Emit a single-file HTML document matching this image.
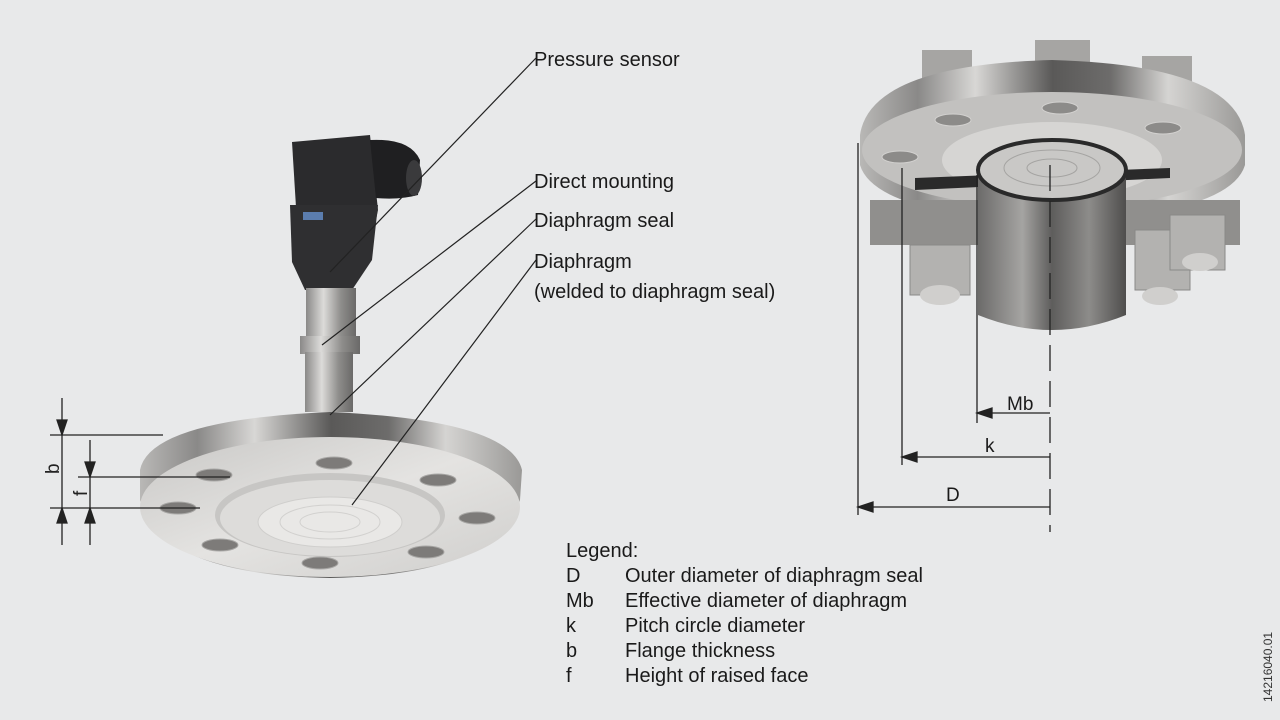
<!DOCTYPE html>
<html><head><meta charset="utf-8"><style>
html,body{margin:0;padding:0;background:#e8e9ea;}
svg{display:block;font-family:"Liberation Sans",sans-serif;}
</style></head><body>
<svg width="1280" height="720" viewBox="0 0 1280 720">
<defs>
<linearGradient id="band" x1="0" x2="1" y1="0" y2="0">
<stop offset="0" stop-color="#b9b8b6"/><stop offset="0.15" stop-color="#8a8988"/><stop offset="0.3" stop-color="#d8d7d5"/><stop offset="0.5" stop-color="#5a5958"/><stop offset="0.65" stop-color="#6d6c6b"/><stop offset="0.8" stop-color="#d5d4d2"/><stop offset="1" stop-color="#9a9997"/>
</linearGradient>
<linearGradient id="face" x1="0" x2="1" y1="0" y2="1">
<stop offset="0" stop-color="#c9c8c6"/><stop offset="0.5" stop-color="#e4e3e1"/><stop offset="1" stop-color="#cfcecc"/>
</linearGradient>
<linearGradient id="cyl" x1="0" x2="1">
<stop offset="0" stop-color="#6c6b6a"/><stop offset="0.3" stop-color="#a5a4a2"/><stop offset="0.5" stop-color="#5e5d5c"/><stop offset="0.75" stop-color="#8d8c8a"/><stop offset="1" stop-color="#4f4e4d"/>
</linearGradient>
<linearGradient id="stem" x1="0" x2="1">
<stop offset="0" stop-color="#8a8988"/><stop offset="0.35" stop-color="#dcdbd9"/><stop offset="0.7" stop-color="#8e8d8b"/><stop offset="1" stop-color="#6a6968"/>
</linearGradient>
</defs>

<path d="M292 142 L370 135 L378 210 L372 240 L298 240 Z" fill="#2b2b2d"/>
<path d="M370 140 Q410 138 420 160 L418 195 Q400 200 376 198 Z" fill="#1f1f21"/>
<ellipse cx="414" cy="178" rx="8" ry="18" fill="#3a3a3c"/>
<path d="M290 205 L378 205 L372 260 L352 290 L305 290 L292 262 Z" fill="#2f2f31"/>
<rect x="303" y="212" width="20" height="8" fill="#5b7dae"/>
<rect x="306" y="288" width="50" height="50" fill="url(#stem)"/>
<rect x="300" y="336" width="60" height="18" fill="url(#stem)"/>
<rect x="305" y="352" width="48" height="60" fill="url(#stem)"/>
<path d="M140 470 Q150 420 330 412 Q510 420 522 470 L520 500 Q500 575 330 578 Q160 575 140 500 Z" fill="url(#band)"/>
<ellipse cx="330" cy="507" rx="190" ry="70" fill="url(#face)"/>
<ellipse cx="330" cy="515" rx="115" ry="42" fill="#c7c6c4"/>
<ellipse cx="330" cy="518" rx="110" ry="38" fill="#dddcda"/>
<ellipse cx="330" cy="522" rx="72" ry="25" fill="#e9e8e6" stroke="#cfcecc"/>
<ellipse cx="330" cy="522" rx="50" ry="17" fill="none" stroke="#d2d1cf"/>
<ellipse cx="330" cy="522" rx="30" ry="10" fill="none" stroke="#d2d1cf"/>
<g fill="#7d7b79" stroke="#a9a8a6">
<ellipse cx="334" cy="463" rx="18" ry="6"/><ellipse cx="214" cy="475" rx="18" ry="6"/><ellipse cx="438" cy="480" rx="18" ry="6"/>
<ellipse cx="178" cy="508" rx="18" ry="6"/><ellipse cx="477" cy="518" rx="18" ry="6"/><ellipse cx="220" cy="545" rx="18" ry="6"/>
<ellipse cx="426" cy="552" rx="18" ry="6"/><ellipse cx="320" cy="563" rx="18" ry="6"/>
</g>

<g stroke="#222" stroke-width="1.2" fill="none">
<line x1="536" y1="58" x2="330" y2="272"/>
<line x1="536" y1="181" x2="322" y2="345"/>
<line x1="536" y1="219" x2="330" y2="415"/>
<line x1="536" y1="260" x2="352" y2="505"/>
</g>
<g font-size="20" fill="#1a1a1a">
<text x="534" y="66">Pressure sensor</text>
<text x="534" y="188">Direct mounting</text>
<text x="534" y="227">Diaphragm seal</text>
<text x="534" y="268">Diaphragm</text>
<text x="534" y="298">(welded to diaphragm seal)</text>
</g>

<g stroke="#222" stroke-width="1.3" fill="#222">
<line x1="50" y1="435" x2="163" y2="435"/>
<line x1="78" y1="477" x2="230" y2="477"/>
<line x1="50" y1="508" x2="200" y2="508"/>
<line x1="62" y1="398" x2="62" y2="545"/>
<line x1="90" y1="440" x2="90" y2="545"/>
<path d="M57 420 L67 420 L62 435 Z"/><path d="M57 523 L67 523 L62 508 Z"/>
<path d="M85 462 L95 462 L90 477 Z"/><path d="M85 523 L95 523 L90 508 Z"/>
</g>
<text transform="translate(59,474) rotate(-90)" font-size="19" fill="#222">b</text>
<text transform="translate(87,496) rotate(-90)" font-size="19" fill="#222">f</text>

<g fill="#a6a5a3"><rect x="922" y="50" width="50" height="40"/><rect x="1035" y="40" width="55" height="40"/><rect x="1142" y="56" width="50" height="36"/></g>
<path d="M860 135 Q870 65 1052 60 Q1235 65 1245 135 L1245 165 Q1230 215 1052 222 Q875 215 860 165 Z" fill="url(#band)"/>
<ellipse cx="1052" cy="150" rx="190" ry="58" fill="#c2c1bf"/>
<rect x="870" y="200" width="370" height="45" fill="#908f8d"/>
<g fill="#b3b2b0" stroke="#8a8988"><rect x="910" y="245" width="60" height="50"/><rect x="1135" y="230" width="55" height="60"/><rect x="1170" y="215" width="55" height="55"/></g>
<ellipse cx="940" cy="295" rx="20" ry="10" fill="#d0cfcd"/><ellipse cx="1160" cy="296" rx="18" ry="9" fill="#d0cfcd"/><ellipse cx="1200" cy="262" rx="18" ry="9" fill="#d0cfcd"/>
<ellipse cx="1052" cy="160" rx="110" ry="38" fill="#d6d5d3"/>
<path d="M915 178 L1170 168 L1170 178 L915 190 Z" fill="#2a2a2a"/>
<path d="M978 170 L1126 170 L1126 315 Q1052 345 978 315 Z" fill="url(#cyl)"/>
<ellipse cx="1052" cy="170" rx="74" ry="30" fill="#c9c8c6" stroke="#2a2a2a" stroke-width="4"/>
<ellipse cx="1052" cy="168" rx="48" ry="18" fill="none" stroke="#a5a4a2"/>
<ellipse cx="1052" cy="168" rx="25" ry="9" fill="none" stroke="#a5a4a2"/>
<g fill="#8c8b89" stroke="#d2d1cf"><ellipse cx="900" cy="157" rx="18" ry="6"/><ellipse cx="953" cy="120" rx="18" ry="6"/><ellipse cx="1060" cy="108" rx="18" ry="6"/><ellipse cx="1163" cy="128" rx="18" ry="6"/></g>

<g stroke="#222" stroke-width="1.3" fill="#222">
<line x1="858" y1="143" x2="858" y2="515"/>
<line x1="902" y1="168" x2="902" y2="465"/>
<line x1="977" y1="175" x2="977" y2="423"/>
<line x1="1050" y1="165" x2="1050" y2="532" stroke-dasharray="26,10"/>
<line x1="977" y1="413" x2="1050" y2="413"/>
<line x1="902" y1="457" x2="1050" y2="457"/>
<line x1="858" y1="507" x2="1050" y2="507"/>
<path d="M977 413 L992 408 L992 418 Z"/>
<path d="M902 457 L917 452 L917 462 Z"/>
<path d="M858 507 L873 502 L873 512 Z"/>
</g>
<g font-size="19" fill="#1a1a1a">
<text x="1007" y="410">Mb</text>
<text x="985" y="452">k</text>
<text x="946" y="501">D</text>
</g>

<g font-size="20" fill="#1a1a1a">
<text x="566" y="557">Legend:</text>
<text x="566" y="582">D</text><text x="625" y="582">Outer diameter of diaphragm seal</text>
<text x="566" y="607">Mb</text><text x="625" y="607">Effective diameter of diaphragm</text>
<text x="566" y="632">k</text><text x="625" y="632">Pitch circle diameter</text>
<text x="566" y="657">b</text><text x="625" y="657">Flange thickness</text>
<text x="566" y="682">f</text><text x="625" y="682">Height of raised face</text>
</g>
<text transform="translate(1272,702) rotate(-90)" font-size="12" fill="#333">14216040.01</text>
</svg>
</body></html>
